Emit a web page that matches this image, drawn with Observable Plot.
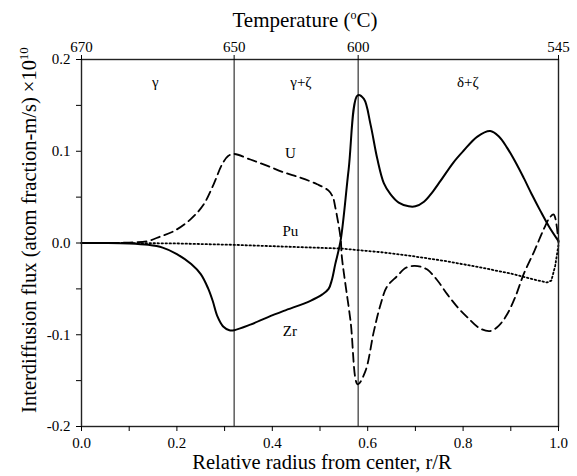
<!DOCTYPE html>
<html>
<head>
<meta charset="utf-8">
<script src="https://cdn.jsdelivr.net/npm/d3@7"></script>
<script src="https://cdn.jsdelivr.net/npm/@observablehq/plot@0.6"></script>
<style>
  html, body { margin: 0; padding: 0; background: white; }
  #chart { width: 577px; height: 476px; }
  #chart svg, #chart svg text, #chart svg tspan { font-family: "Liberation Serif", "DejaVu Serif", serif !important; }
</style>
</head>
<body>
<div id="chart"></div>
<script>
// Zr (solid)
const zrR = [0, 0.05, 0.10, 0.14, 0.17, 0.20, 0.23, 0.25, 0.265, 0.275, 0.285, 0.297, 0.31, 0.32, 0.354, 0.39, 0.424, 0.48, 0.505, 0.518, 0.525, 0.532, 0.543, 0.56, 0.579, 0.592, 0.606, 0.62, 0.634, 0.648, 0.665, 0.686, 0.70, 0.718, 0.735, 0.753, 0.78, 0.80, 0.83, 0.857, 0.875, 0.892, 0.91, 0.927, 0.945, 0.962, 0.98, 1.0];
const zrFlux = [0, 0, -0.0005, -0.002, -0.005, -0.012, -0.023, -0.034, -0.049, -0.063, -0.080, -0.091, -0.095, -0.095, -0.089, -0.081, -0.074, -0.063, -0.056, -0.050, -0.040, -0.023, 0.002, 0.08, 0.161, 0.157, 0.129, 0.092, 0.065, 0.053, 0.044, 0.040, 0.040, 0.045, 0.055, 0.068, 0.088, 0.100, 0.116, 0.122, 0.116, 0.104, 0.088, 0.071, 0.052, 0.035, 0.018, 0.002];
// U (dashed)
const uR = [0, 0.05, 0.10, 0.138, 0.165, 0.194, 0.229, 0.256, 0.277, 0.295, 0.308, 0.32, 0.354, 0.39, 0.424, 0.46, 0.494, 0.518, 0.527, 0.532, 0.543, 0.546, 0.564, 0.579, 0.595, 0.613, 0.627, 0.64, 0.662, 0.68, 0.697, 0.712, 0.725, 0.745, 0.767, 0.79, 0.809, 0.835, 0.857, 0.875, 0.892, 0.91, 0.927, 0.95, 0.969, 0.982, 0.99, 1.0];
const uFlux = [0, 0, 0.0005, 0.002, 0.007, 0.013, 0.026, 0.042, 0.064, 0.086, 0.095, 0.097, 0.091, 0.084, 0.077, 0.071, 0.064, 0.057, 0.050, 0.039, 0.006, -0.016, -0.085, -0.154, -0.14, -0.096, -0.067, -0.048, -0.036, -0.027, -0.025, -0.026, -0.029, -0.040, -0.056, -0.071, -0.081, -0.093, -0.096, -0.090, -0.078, -0.058, -0.034, -0.008, 0.015, 0.028, 0.031, 0.0];
// Pu (dotted)
const puR = [0, 0.1, 0.2, 0.32, 0.43, 0.543, 0.627, 0.69, 0.767, 0.84, 0.906, 0.95, 0.976, 0.985, 0.993, 1.0];
const puFlux = [0, 0, -0.0005, -0.002, -0.004, -0.006, -0.010, -0.014, -0.020, -0.027, -0.034, -0.040, -0.043, -0.041, -0.025, -0.002];

// Axis ticks
const xMajor = [0, 0.2, 0.4, 0.6, 0.8, 1.0];
const xMinor = [0.1, 0.3, 0.5, 0.7, 0.9];
const yMajor = [-0.2, -0.1, 0, 0.1, 0.2];
const yMinor = [-0.15, -0.05, 0.05, 0.15];
// Temperature axis (top) positions and labels
const tempPos = [0, 0.32, 0.58, 1.0];
const tempLabels = ["670", "650", "600", "545"];
// Phase boundaries
const boundaries = [0.32, 0.58];
// Phase labels
const phaseNames = ["γ", "γ+ζ", "δ+ζ"];
const phaseX = [0.155, 0.46, 0.81];
const phaseY = [0.175, 0.175, 0.175];
// Curve labels
const curveNames = ["U", "Pu", "Zr"];
const curveX = [0.438, 0.438, 0.437];
const curveY = [0.098, 0.013, -0.096];

const toRows = (rs, vs) => rs.map((r, i) => ({r, v: vs[i]}));
const zr = toRows(zrR, zrFlux);
const u = toRows(uR, uFlux);
const pu = toRows(puR, puFlux);
const phases = phaseNames.map((t, i) => ({t, x: phaseX[i], y: phaseY[i]}));
const curves = curveNames.map((t, i) => ({t, x: curveX[i], y: curveY[i]}));

const font = "Liberation Serif, DejaVu Serif, serif";

const plot = Plot.plot({
  width: 577,
  height: 476,
  marginLeft: 81,
  marginRight: 19,
  marginTop: 59,
  marginBottom: 50,
  style: {fontFamily: font, fontSize: "14px", background: "white", color: "black"},
  x: {domain: [0, 1], axis: null},
  y: {domain: [-0.2, 0.2], axis: null},
  marks: [
    Plot.ruleX(boundaries, {stroke: "#333", strokeWidth: 1.2}),
    Plot.line(pu, {x: "r", y: "v", stroke: "black", strokeWidth: 1.8, strokeDasharray: "1.5,2.5", curve: "linear"}),
    Plot.line(u, {x: "r", y: "v", stroke: "black", strokeWidth: 1.8, strokeDasharray: "9,5", curve: "catmull-rom"}),
    Plot.line(zr, {x: "r", y: "v", stroke: "black", strokeWidth: 2, curve: "catmull-rom"}),
    Plot.frame({stroke: "#222", strokeWidth: 1.4}),
    Plot.axisX(xMajor, {anchor: "bottom", tickSize: 5, tickPadding: 6, tickFormat: d => d.toFixed(1), label: null, fontSize: 15}),
    Plot.axisX(xMinor, {anchor: "bottom", tickSize: 5, tickFormat: () => "", label: null}),
    Plot.axisY(yMajor, {anchor: "left", tickSize: 5, tickPadding: 6, tickFormat: d => d.toFixed(1), label: null, fontSize: 15}),
    Plot.axisY(yMinor, {anchor: "left", tickSize: 5, tickFormat: () => "", label: null}),
    Plot.axisX(tempPos, {anchor: "top", tickSize: 5, tickPadding: 3, tickFormat: d => tempLabels[tempPos.indexOf(d)], label: null, fontSize: 15}),
    Plot.text(phases, {x: "x", y: "y", text: "t", fontSize: 15}),
    Plot.text(curves, {x: "x", y: "y", text: "t", fontSize: 15})
  ]
});

const svg = d3.select(plot);
// Top title
const tt = svg.append("text")
  .attr("x", 305).attr("y", 27)
  .attr("text-anchor", "middle")
  .attr("font-family", font).attr("font-size", 21).attr("fill", "black");
tt.append("tspan").text("Temperature (");
tt.append("tspan").attr("font-size", 12).attr("dy", -8).text("o");
tt.append("tspan").attr("dy", 8).text("C)");
// Bottom title
svg.append("text")
  .attr("x", 322).attr("y", 469)
  .attr("text-anchor", "middle")
  .attr("font-family", font).attr("font-size", 20.5).attr("fill", "black")
  .text("Relative radius from center, r/R");
// Y title
const yt = svg.append("text")
  .attr("transform", "translate(36,230) rotate(-90)")
  .attr("text-anchor", "middle")
  .attr("font-family", font).attr("font-size", 20.5).attr("fill", "black");
yt.append("tspan").text("Interdiffusion flux (atom fraction-m/s) ×10");
yt.append("tspan").attr("font-size", 13).attr("dy", -8).text("10");

document.getElementById("chart").appendChild(plot);
</script>
</body>
</html>
